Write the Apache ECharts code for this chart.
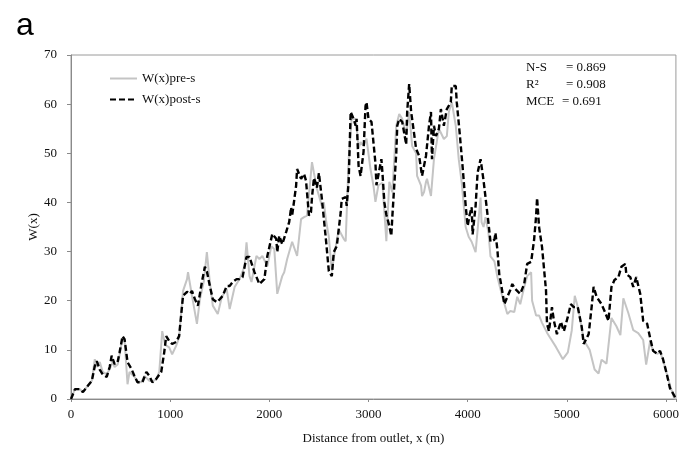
<!DOCTYPE html>
<html>
<head>
<meta charset="utf-8">
<script src="https://cdn.jsdelivr.net/npm/echarts@6/dist/echarts.min.js"></script>
<style>html,body{margin:0;padding:0;background:#fff}#c{width:682px;height:450px}</style>
</head>
<body>
<div id="c"></div>
<script>
// Distance from outlet (m) and W(x) values, post-s (dashed black)
var postX = [0,40,90,120,170,210,240,260,290,320,360,390,410,440,470,490,520,540,570,610,640,670,720,760,790,820,860,910,940,960,990,1020,1060,1090,1130,1170,1200,1220,1250,1280,1320,1350,1370,1400,1430,1470,1500,1530,1570,1600,1630,1670,1700,1730,1770,1800,1850,1900,1950,1980,2030,2070,2080,2100,2130,2170,2200,2220,2230,2270,2280,2320,2350,2370,2400,2420,2430,2450,2480,2500,2530,2570,2600,2630,2650,2680,2720,2730,2770,2780,2800,2820,2850,2870,2880,2900,2920,2950,2970,2980,3000,3030,3050,3070,3080,3130,3140,3160,3180,3210,3230,3240,3280,3290,3310,3340,3380,3390,3410,3430,3440,3480,3510,3540,3580,3610,3630,3640,3660,3680,3710,3730,3760,3790,3830,3840,3880,3890,3920,3950,3980,4000,4020,4040,4050,4080,4100,4130,4160,4180,4210,4230,4270,4280,4300,4320,4330,4370,4400,4430,4450,4480,4500,4530,4570,4600,4640,4670,4690,4700,4720,4750,4790,4800,4820,4850,4870,4900,4940,4970,5010,5040,5070,5110,5150,5170,5220,5250,5270,5300,5350,5380,5420,5450,5480,5520,5550,5590,5600,5640,5670,5700,5740,5770,5810,5840,5870,5910,5940,5970,6010,6040,6080,6100];
var postW = [0,2,2,1.4,2.7,3.7,6.7,7.7,6,5,4.5,6.5,8.8,7.1,7.5,9.5,12.8,12.2,7.5,6.1,4.7,3.4,3.4,5.5,4.7,3.4,4.1,5.5,9.5,12.8,11.8,11.2,11.6,12.8,21,21.8,21.4,22,20.3,19,23.8,26.9,26,23,20.3,19.7,20.3,21,23,23,23.8,24.4,24.4,24.8,28.9,28.9,25.8,23.4,24.4,29.1,33.6,32.6,29.9,33.2,31.5,34,36,39,37.3,43.4,46.8,44.8,45.8,44.4,37.3,38,41,45,43,46,40.7,32.6,26,25,29.9,31.1,38,40.7,41.1,39.3,44.2,58.4,57,55.6,57,47.4,45.4,50.3,59.6,60.4,57,56.4,56,48,43.5,48.8,46.2,40,37.5,35.2,33.2,37,50,55.6,57,56.4,51.8,58.4,64.1,58.4,57,50.9,49.5,45.4,49.5,55.6,58.4,48.8,55.6,53.5,55,59,55.6,59,60.4,63.7,63.7,60.4,54,47,39.3,35.2,37.5,39,33.5,39.3,46,48.8,44.5,44.8,35.8,32,32.4,33.8,30.3,25,24.2,19.3,20.8,22.2,23.4,22.4,22.8,21.4,23.4,27.5,27.9,32.4,37.2,40.9,35,30.9,22.1,15.3,13.8,18.7,15.9,13.2,15.7,13.8,16.7,19.3,18.7,18.7,14.7,11.2,13.2,18.7,22.8,20.8,19.3,17.9,15.9,22.8,24.2,24.8,26.9,27.5,25.4,24.8,22.8,24.8,21.4,15.9,15.3,12.4,9.8,9.2,9.8,8.1,4.9,2.2,0.8,0];

// pre-s (solid grey)
var preX = [0,40,90,120,170,210,240,260,290,320,360,390,420,440,470,490,520,540,570,590,640,670,710,740,790,820,860,890,920,950,990,1020,1060,1090,1130,1170,1180,1220,1270,1300,1340,1370,1400,1430,1480,1520,1570,1600,1650,1700,1750,1770,1800,1820,1870,1900,1930,1980,2020,2050,2080,2100,2130,2150,2180,2230,2280,2320,2350,2380,2400,2430,2450,2480,2530,2550,2570,2600,2630,2660,2700,2750,2770,2800,2830,2870,2880,2900,2920,2950,2980,3020,3050,3070,3100,3140,3180,3210,3240,3280,3310,3340,3380,3410,3440,3480,3490,3530,3540,3560,3580,3590,3630,3660,3710,3760,3790,3810,3840,3880,3910,3940,3980,4010,4040,4080,4130,4140,4160,4180,4210,4230,4270,4300,4350,4400,4430,4470,4500,4530,4570,4600,4640,4650,4690,4720,4750,4800,4830,4890,4960,5010,5050,5080,5120,5170,5230,5280,5320,5350,5400,5450,5500,5540,5570,5620,5670,5720,5770,5800,5840,5870,5910,5940,5970,6010,6040,6080,6100];
var preW = [0,2,2,1.4,2.7,3.7,8.1,6.5,7.5,5.5,5,6.1,7.5,6.5,7,9,12.5,12,3,5.5,4.5,3.6,3.4,4.7,3.7,3.6,4,5.5,13.8,11,10.5,9.1,10.8,12.5,22,24.4,25.8,21,15.3,20.3,24,29.9,23.8,19,17.3,20.7,22.4,18.3,22.8,24.4,27,31.9,25,23.8,29.1,28.5,29.1,27,31.1,30.5,21.4,21,25,25.8,28.5,32,29.1,36.6,37,37.3,37.2,48.2,46,42.8,39.3,40,36.6,33,26,30,34.5,32.6,32.1,48.8,57,57,55.6,51,52.3,51.5,53,46.8,43.4,40.1,43.5,44,32.1,44.2,42.1,55.6,58,57,53.8,58.4,51.5,50,45.4,43.4,41.3,42.1,44.2,44.8,41.3,48.8,55,52.9,53.5,58.4,60.4,55.6,48.8,44,35,33,32,29.9,41,36,35,37,33.8,29,28,24.8,20.8,17.3,17.9,17.7,20.8,19.3,22.8,25,25.8,20,17,17,15.5,13.5,12.5,10.6,8.1,9.5,14,21,18,12,10,6,5.2,8,7.2,16.5,14.8,13,20.5,17.5,14,13.4,12,7,11.8,9.8,9.2,9.5,8,5,2.8,0.3,0];

var yTicks = [0,10,20,30,40,50,60,70];
var xTickLabels = ['0','1000','2000','3000','4000','5000','6000'];

function pairs(xs, ys){ return xs.map(function(x,i){ return [x, ys[i]]; }); }

var serif = "'Liberation Serif','Times New Roman',serif";
var chart = echarts.init(document.getElementById('c'), null, {renderer:'canvas'});
chart.setOption({
  animation: false,
  backgroundColor: '#fff',
  grid: {left: 71, right: 3, top: 55, bottom: 50, show: true, borderColor: '#9a9a9a', borderWidth: 1, backgroundColor: 'transparent'},
  legend: {
    orient: 'vertical', left: 104, top: 67, itemWidth: 27, itemHeight: 10, itemGap: 8,
    itemStyle: {opacity: 0},
    textStyle: {fontFamily: serif, fontSize: 13, color: '#111'},
    data: ['W(x)pre-s', 'W(x)post-s']
  },
  xAxis: {
    type: 'value', min: 0, max: 6100, interval: 1000,
    name: 'Distance from outlet, x (m)', nameLocation: 'middle', nameGap: 33,
    nameTextStyle: {fontFamily: serif, fontSize: 13, color: '#111'},
    axisLine: {lineStyle: {color: '#8a8a8a', width: 1}},
    axisTick: {show: true, length: 3, lineStyle: {color: '#8a8a8a'}},
    splitLine: {show: false},
    axisLabel: {fontFamily: serif, fontSize: 13, color: '#111', margin: 9,
      formatter: function(v){ var s = String(v); return xTickLabels.indexOf(s) >= 0 ? s : ''; }}
  },
  yAxis: {
    type: 'value', min: 0, max: 70, interval: 10,
    name: 'W(x)', nameLocation: 'middle', nameGap: 31, nameRotate: 90, nameMoveOverlap: false,
    nameTextStyle: {fontFamily: serif, fontSize: 13, color: '#111'},
    axisLine: {show: true, lineStyle: {color: '#8a8a8a', width: 1}},
    axisTick: {show: true, length: 4, lineStyle: {color: '#8a8a8a'}},
    splitLine: {show: false},
    axisLabel: {fontFamily: serif, fontSize: 13, color: '#111', margin: 14,
      formatter: function(v){ return yTicks.indexOf(v) >= 0 ? String(v) : ''; }}
  },
  series: [
    {name: 'W(x)pre-s', type: 'line', data: pairs(preX, preW), symbol: 'none', z: 2,
     itemStyle: {color: '#c4c4c4'}, lineStyle: {color: '#c4c4c4', width: 2}},
    {name: 'W(x)post-s', type: 'line', data: pairs(postX, postW), symbol: 'none', z: 3,
     itemStyle: {color: '#000'}, lineStyle: {color: '#000', width: 2.4, type: [6, 3]}}
  ],
  graphic: [
    {type: 'text', left: 16, top: 10, style: {text: 'a', font: "32px 'Liberation Sans', Arial, sans-serif", fill: '#000'}},
    {type: 'text', left: 526, top: 61, style: {text: 'N-S', font: '13px ' + serif, fill: '#111'}},
    {type: 'text', left: 566, top: 61, style: {text: '= 0.869', font: '13px ' + serif, fill: '#111'}},
    {type: 'text', left: 526, top: 78, style: {text: 'R²', font: '13px ' + serif, fill: '#111'}},
    {type: 'text', left: 566, top: 78, style: {text: '= 0.908', font: '13px ' + serif, fill: '#111'}},
    {type: 'text', left: 526, top: 95, style: {text: 'MCE', font: '13px ' + serif, fill: '#111'}},
    {type: 'text', left: 562, top: 95, style: {text: '= 0.691', font: '13px ' + serif, fill: '#111'}}
  ]
});
</script>
</body>
</html>
